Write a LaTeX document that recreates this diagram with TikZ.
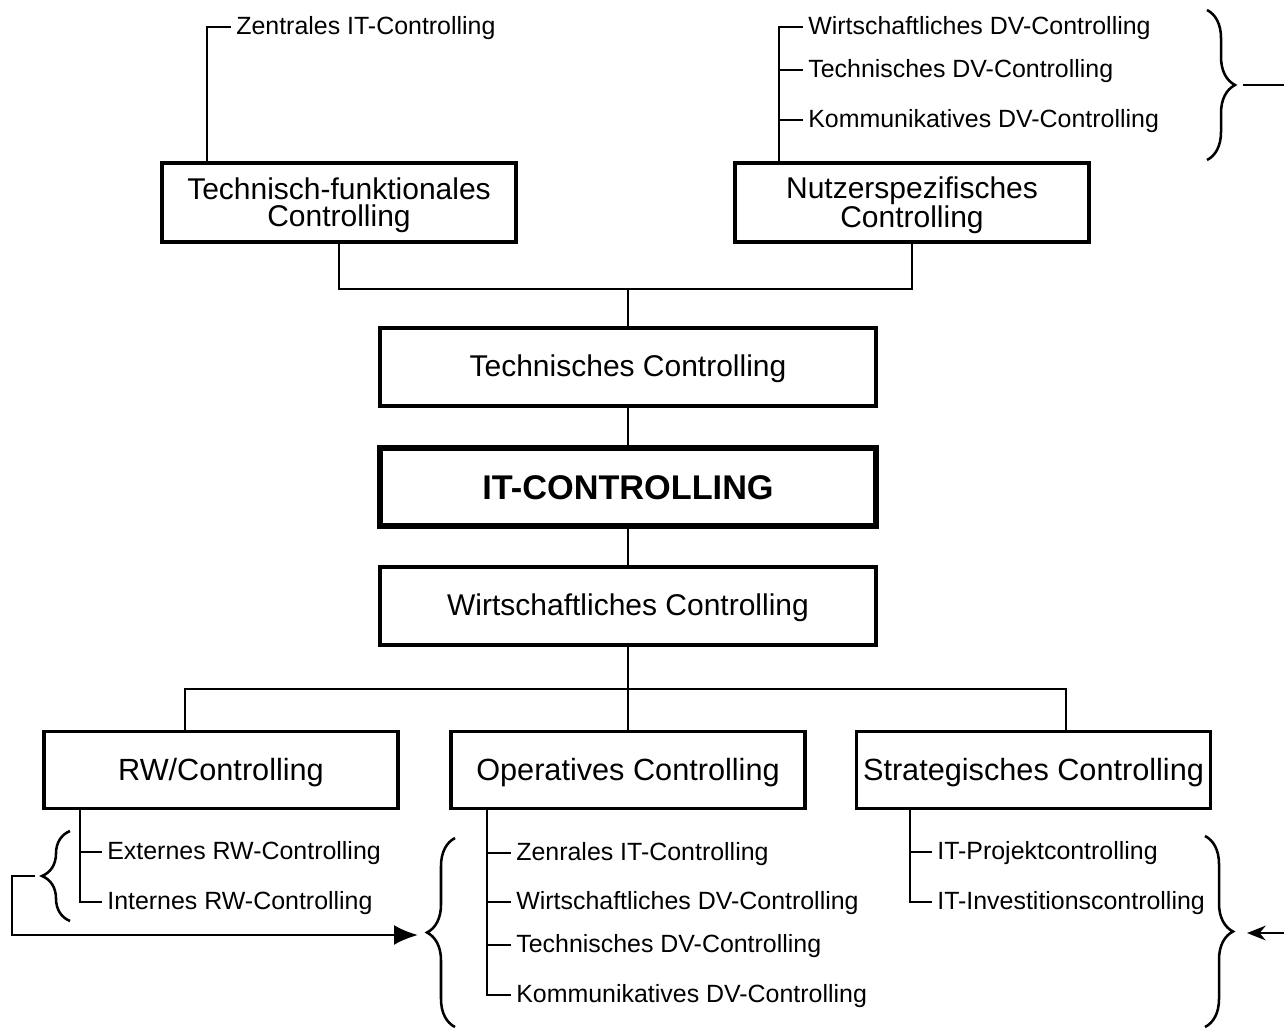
\documentclass[tikz,border=0pt]{standalone}
\usepackage{fontspec}
\setmainfont{Liberation Sans}
\usetikzlibrary{decorations.pathreplacing,arrows.meta,calc}
\tikzset{
  conn/.style={line width=1.9pt, line join=miter},
  boxbase/.style={draw, line width=2.6pt, outer sep=0pt, inner sep=0pt, align=center},
  boxA/.style={boxbase, minimum width=265.5pt, minimum height=59pt,
    font=\fontsize{22.5}{20.5}\selectfont},
  boxB/.style={boxbase, minimum width=372pt, minimum height=58.5pt,
    font=\fontsize{22.5}{22}\selectfont, text height=16pt, text depth=1.2pt},
  boxC/.style={boxbase, minimum width=265.5pt, minimum height=57.5pt,
    font=\fontsize{23}{22}\selectfont, text height=16.4pt, text depth=0.6pt},
  lbl/.style={anchor=west, inner xsep=4pt, inner ysep=0pt, outer sep=0pt,
    text height=11.2pt, text depth=0pt, font=\fontsize{18.7}{20}\selectfont},
  bracedeco/.style={line width=1.9pt, decorate, decoration={brace, amplitude=21pt}}
}
\begin{document}
\begin{tikzpicture}[x=0.75pt, y=-0.75pt]
\useasboundingbox (0,0) rectangle (1284,1029);
\fill[white] (0,0) rectangle (1284,1029);

% boxes
\node[boxA] (tf) at (339,202.5) {\rule{0pt}{20.5pt}Technisch-funktionales\\Controlling};
\node[boxA] (ns) at (912,202.5) {\rule{0pt}{20.5pt}Nutzerspezifisches\\Controlling};
\node[boxB] (tc) at (628,367) {Technisches Controlling};
\node[boxB, line width=3.8pt, text height=18.5pt, text depth=0pt,
  font=\fontsize{25.7}{26}\selectfont\bfseries] (it) at (628,487) {IT-CONTROLLING};
\node[boxB] (wc) at (628,606) {Wirtschaftliches Controlling};
\node[boxC] (rw) at (221,770) {RW/Controlling};
\node[boxC] (oc) at (628,770) {Operatives Controlling};
\node[boxC] (sc) at (1033.5,770) {Strategisches Controlling};

% labels
\node[lbl] (z1) at (231,27) {Zentrales IT-Controlling};
\node[lbl] (n1) at (803,27) {Wirtschaftliches DV-Controlling};
\node[lbl] (n2) at (803,70) {Technisches DV-Controlling};
\node[lbl] (n3) at (803,120) {Kommunikatives DV-Controlling};
\node[lbl] (e1) at (102,852) {Externes RW-Controlling};
\node[lbl] (e2) at (102,902) {Internes RW-Controlling};
\node[lbl] (o1) at (511,853) {Zenrales IT-Controlling};
\node[lbl] (o2) at (511,902) {Wirtschaftliches DV-Controlling};
\node[lbl] (o3) at (511,945) {Technisches DV-Controlling};
\node[lbl] (o4) at (511,995) {Kommunikatives DV-Controlling};
\node[lbl] (s1) at (932,852) {IT-Projektcontrolling};
\node[lbl] (s2) at (932,902) {IT-Investitionscontrolling};

% top connectors
\draw[conn] ([xshift=33.75pt]tf.north west) |- (z1.west);
\coordinate (nsv) at ([xshift=33pt]ns.north west);
\draw[conn] (nsv) |- (n1.west);
\draw[conn] (nsv |- n2.west) -- (n2.west);
\draw[conn] (nsv |- n3.west) -- (n3.west);

% bus between top boxes and Technisches Controlling
\coordinate (bus1) at ($(tc.north)+(0,-39)$);
\draw[conn] (tf.south) |- (bus1) -| (ns.south);
\draw[conn] (bus1) -- (tc.north);
\draw[conn] (tc.south) -- (it.north);
\draw[conn] (it.south) -- (wc.north);

% bus below Wirtschaftliches Controlling
\coordinate (bus2) at ($(wc.south)+(0,44)$);
\coordinate (rwt) at ([xshift=-27pt]rw.north);
\coordinate (sct) at ([xshift=24.4pt]sc.north);
\draw[conn] (wc.south) -- (oc.north);
\draw[conn] (rwt) |- (bus2) -| (sct);

% bottom lists
\coordinate (rwb) at ([xshift=27pt]rw.south west);
\draw[conn] (rwb) |- (e2.west);
\draw[conn] (rwb |- e1.west) -- (e1.west);
\coordinate (ocb) at ([xshift=27pt]oc.south west);
\draw[conn] (ocb) |- (o4.west);
\draw[conn] (ocb |- o1.west) -- (o1.west);
\draw[conn] (ocb |- o2.west) -- (o2.west);
\draw[conn] (ocb |- o3.west) -- (o3.west);
\coordinate (scb) at ([xshift=40pt]sc.south west);
\draw[conn] (scb) |- (s2.west);
\draw[conn] (scb |- s1.west) -- (s1.west);

% braces
\coordinate (bTRa) at (1207,10);  \coordinate (bTRb) at (1207,160);
\draw[bracedeco] (bTRa) -- (bTRb);
\coordinate (tr1) at (1243,85); \coordinate (tr2) at (1284,85);
\draw[conn] (tr1) -- (tr2);

\coordinate (bLa) at (70,921); \coordinate (bLb) at (70,831);
\draw[bracedeco] (bLa) -- (bLb);

\coordinate (bMa) at (455,1027); \coordinate (bMb) at (455,838);
\draw[bracedeco] (bMa) -- (bMb);

\coordinate (bRa) at (1205,836); \coordinate (bRb) at (1205,1027);
\draw[bracedeco] (bRa) -- (bRb);

% arrows
\coordinate (la) at (35,876);
\coordinate (lc) at (12,935);
\coordinate (mtip) at (418,935);
\draw[conn, -{Latex[length=18pt,width=15pt]}] (la) -| (lc) -- (mtip);
\coordinate (ra1) at (1284,933);
\coordinate (ra2) at (1247,933);
\draw[conn, -{Stealth[length=14pt,width=11pt]}] (ra1) -- (ra2);
\end{tikzpicture}
\end{document}
